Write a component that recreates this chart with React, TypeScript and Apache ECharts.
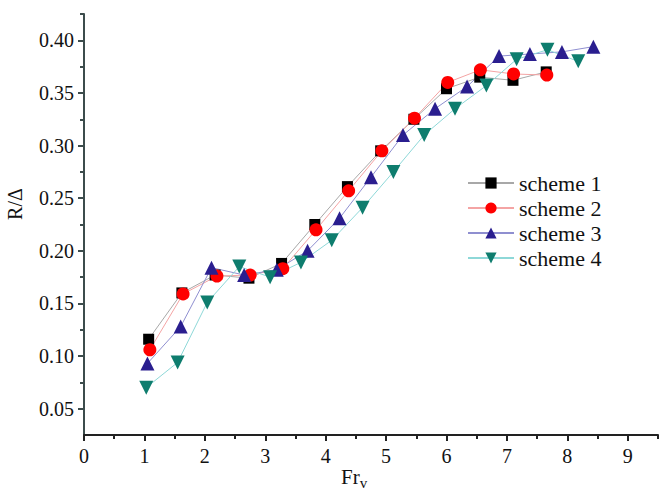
import React, { useEffect, useRef } from "react";
import * as echarts from "echarts";

const xMajorTicks = [0, 1, 2, 3, 4, 5, 6, 7, 8, 9];
const xMinorTicks = [0.5, 1.5, 2.5, 3.5, 4.5, 5.5, 6.5, 7.5, 8.5, 9.5];
const yMajorTicks = [0.05, 0.1, 0.15, 0.2, 0.25, 0.3, 0.35, 0.4];
const yMinorTicks = [0.075, 0.125, 0.175, 0.225, 0.275, 0.325, 0.375, 0.425];

const seriesNames = ["scheme 1", "scheme 2", "scheme 3", "scheme 4"];

const scheme1X = [1.07, 1.62, 2.17, 2.73, 3.27, 3.82, 4.36, 4.91, 5.46, 6.0, 6.55, 7.1, 7.65];
const scheme1Y = [0.116, 0.16, 0.177, 0.174, 0.188, 0.225, 0.261, 0.295, 0.325, 0.354, 0.365, 0.362, 0.37];
const scheme2X = [1.09, 1.64, 2.2, 2.75, 3.29, 3.84, 4.38, 4.93, 5.47, 6.02, 6.56, 7.11, 7.66];
const scheme2Y = [0.106, 0.159, 0.176, 0.177, 0.183, 0.22, 0.257, 0.295, 0.326, 0.36, 0.372, 0.368, 0.367];
const scheme3X = [1.05, 1.6, 2.11, 2.65, 3.19, 3.7, 4.23, 4.75, 5.28, 5.81, 6.34, 6.87, 7.38, 7.91, 8.43];
const scheme3Y = [0.093, 0.128, 0.184, 0.177, 0.182, 0.2, 0.231, 0.27, 0.31, 0.335, 0.356, 0.385, 0.387, 0.389, 0.394];
const scheme4X = [1.03, 1.55, 2.04, 2.57, 3.08, 3.59, 4.1, 4.61, 5.12, 5.63, 6.14, 6.66, 7.16, 7.67, 8.18];
const scheme4Y = [0.07, 0.094, 0.151, 0.185, 0.175, 0.189, 0.21, 0.241, 0.275, 0.31, 0.335, 0.357, 0.382, 0.391, 0.38];

const FONT = "'Liberation Serif', 'Times New Roman', serif";

function pairs(xs: number[], ys: number[]) {
  return xs.map((x, i) => [x, ys[i]]);
}

export default function App() {
  const ref = useRef<HTMLDivElement>(null);
  useEffect(() => {
    if (!ref.current) return;
    const chart = echarts.init(ref.current, undefined, { renderer: "svg" });
    const mk = (
      name: string,
      xs: number[],
      ys: number[],
      symbol: string,
      size: number,
      markerColor: string,
      lineColor: string,
      rotate = 0
    ) => ({
      name,
      type: "line",
      data: pairs(xs, ys),
      symbol,
      symbolSize: size,
      symbolRotate: rotate,
      showAllSymbol: true,
      itemStyle: { color: markerColor, borderWidth: 0 },
      lineStyle: { color: lineColor, width: 1 },
      z: 3,
    });
    const axisLineColor = "#222";
    chart.setOption({
      animation: false,
      backgroundColor: "#fff",
      grid: { left: 84, right: 1, top: 14, bottom: 54 },
      legend: {
        orient: "vertical",
        left: 467,
        top: 172,
        padding: 0,
        itemWidth: 46,
        itemHeight: 14,
        itemGap: 3,
        textStyle: { fontFamily: FONT, fontSize: 22, color: "#111" },
        data: seriesNames,
      },
      xAxis: [
        {
          type: "value",
          min: 0,
          max: 9.5,
          splitLine: { show: false },
          axisLine: { show: true, onZero: false, lineStyle: { color: axisLineColor, width: 2 } },
          axisTick: { show: true, inside: false, length: 6, customValues: xMajorTicks, lineStyle: { color: axisLineColor, width: 2 } },
          axisLabel: { show: true, margin: 11, customValues: xMajorTicks, fontFamily: FONT, fontSize: 20, color: "#111" },
        },
        {
          type: "value",
          min: 0,
          max: 9.5,
          position: "bottom",
          splitLine: { show: false },
          axisLine: { show: false },
          axisTick: { show: true, inside: false, length: 4, customValues: xMinorTicks, lineStyle: { color: axisLineColor, width: 2 } },
          axisLabel: { show: false },
        },
      ],
      yAxis: [
        {
          type: "value",
          min: 0.025,
          max: 0.425,
          splitLine: { show: false },
          axisLine: { show: true, onZero: false, lineStyle: { color: "#3c4c4c", width: 2 } },
          axisTick: { show: true, inside: false, length: 6, customValues: yMajorTicks, lineStyle: { color: "#3c4c4c", width: 2 } },
          axisLabel: {
            show: true,
            margin: 10,
            customValues: yMajorTicks,
            formatter: (v: number) => v.toFixed(2),
            fontFamily: FONT,
            fontSize: 20,
            color: "#111",
          },
        },
        {
          type: "value",
          min: 0.025,
          max: 0.425,
          position: "left",
          splitLine: { show: false },
          axisLine: { show: false },
          axisTick: { show: true, inside: false, length: 4, customValues: yMinorTicks, lineStyle: { color: "#3c4c4c", width: 2 } },
          axisLabel: { show: false },
        },
      ],
      graphic: [
        {
          type: "text",
          x: 15,
          y: 204,
          rotation: Math.PI / 2,
          style: {
            text: "R/Δ",
            fontFamily: FONT,
            fontSize: 20,
            fill: "#111",
            align: "center",
            verticalAlign: "middle",
          },
        },
        {
          type: "text",
          x: 341,
          y: 463,
          style: {
            text: "{a|Fr}{b|v}",
            rich: {
              a: { fontFamily: FONT, fontSize: 21, fill: "#111" },
              b: { fontFamily: FONT, fontSize: 15, fill: "#111", padding: [12, 0, 0, 0] },
            },
          },
        },
      ],
      series: [
        mk(seriesNames[0], scheme1X, scheme1Y, "rect", 11, "#000000", "#a8a8a8"),
        mk(seriesNames[1], scheme2X, scheme2Y, "circle", 13, "#ff0000", "#f4a4a4"),
        mk(seriesNames[2], scheme3X, scheme3Y, "triangle", 14, "#2a1e8f", "#8f8fd0"),
        mk(seriesNames[3], scheme4X, scheme4Y, "triangle", 14, "#0e7d6e", "#8ed8d8", 180),
      ],
    });
    return () => chart.dispose();
  }, []);
  return (
    <div
      ref={ref}
      style={{ position: "fixed", left: 0, top: 0, width: 659, height: 489 }}
    />
  );
}
